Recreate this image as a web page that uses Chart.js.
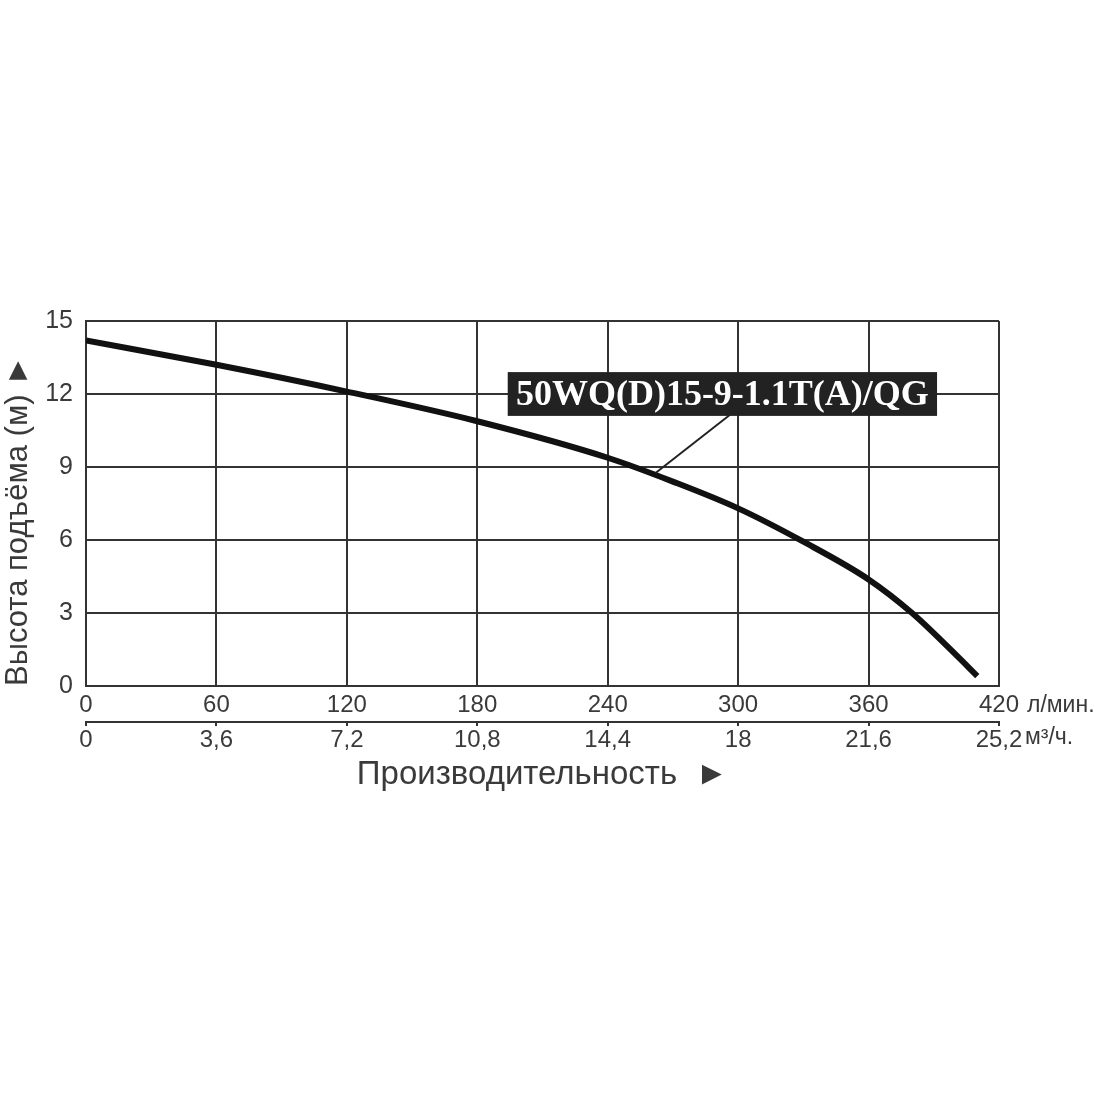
<!DOCTYPE html>
<html>
<head>
<meta charset="utf-8">
<title>50WQ(D)15-9-1.1T(A)/QG</title>
<script src="https://cdn.jsdelivr.net/npm/chart.js@4.4.0/dist/chart.umd.min.js"></script>
<style>
    body { margin: 0; background: #fff; }
    #wrap { width: 1100px; height: 1100px; }
</style>
</head>
<body>
<div id="wrap"><canvas id="pumpChart" width="1100" height="1100"></canvas></div>
<script>
// Pump curve data
const flowLpm = [0, 60, 120, 180, 240, 270, 300, 330, 360, 380, 400, 410];
const headM = [14.2, 13.2, 12.1, 10.88, 9.38, 8.4, 7.3, 5.93, 4.38, 3.0, 1.3, 0.41];

// Axis ticks
const lpmTicks = [0, 60, 120, 180, 240, 300, 360, 420];
const m3Ticks = [0, 3.6, 7.2, 10.8, 14.4, 18, 21.6, 25.2];
const m3Labels = ['0', '3,6', '7,2', '10,8', '14,4', '18', '21,6', '25,2'];
const headTicks = [0, 3, 6, 9, 12, 15];

const modelName = '50WQ(D)15-9-1.1T(A)/QG';

const textColor = '#3a3a3a';
const gridColor = '#333';

// Model label box + leader line, units next to the axes
const pumpLabelPlugin = {
    id: 'pumpLabel',
    afterDraw(chart) {
        const { ctx, scales: { x, y, x2 } } = chart;
        ctx.save();

        // leader line
        ctx.strokeStyle = '#222';
        ctx.lineWidth = 2;
        ctx.beginPath();
        ctx.moveTo(x.getPixelForValue(297), y.getPixelForValue(11.2));
        ctx.lineTo(x.getPixelForValue(262), y.getPixelForValue(8.75));
        ctx.stroke();

        // label box
        const bx0 = x.getPixelForValue(194), bx1 = x.getPixelForValue(391.5);
        const by0 = y.getPixelForValue(12.9), by1 = y.getPixelForValue(11.1);
        ctx.fillStyle = '#222';
        ctx.fillRect(bx0, by0, bx1 - bx0, by1 - by0);
        ctx.fillStyle = '#fff';
        ctx.font = 'bold 36px "Liberation Serif", "DejaVu Serif", serif';
        ctx.textAlign = 'center';
        ctx.textBaseline = 'middle';
        ctx.fillText(modelName, (bx0 + bx1) / 2, (by0 + by1) / 2 + 2);

        // units
        ctx.fillStyle = textColor;
        ctx.font = '23px "Liberation Sans", Arial, sans-serif';
        ctx.textAlign = 'left';
        ctx.fillText('л/мин.', x.right + 28, x.top + 20);
        ctx.fillText('м³/ч.', x2.right + 26, x2.top + 16);
        ctx.restore();
    }
};

new Chart(document.getElementById('pumpChart'), {
    type: 'line',
    data: {
        datasets: [{
            label: modelName,
            data: flowLpm.map((q, i) => ({ x: q, y: headM[i] })),
            borderColor: '#111',
            borderWidth: 6,
            pointRadius: 0,
            cubicInterpolationMode: 'monotone',
            fill: false,
            xAxisID: 'x',
            yAxisID: 'y'
        }]
    },
    options: {
        responsive: false,
        animation: false,
        devicePixelRatio: 1,
        layout: { padding: { top: 321, right: 101, bottom: 305, left: 0 } },
        plugins: {
            legend: { display: false },
            tooltip: { enabled: false }
        },
        scales: {
            x: {
                type: 'linear',
                position: 'bottom',
                min: 0, max: 420,
                afterBuildTicks: s => { s.ticks = lpmTicks.map(v => ({ value: v })); },
                afterFit: s => { s.height = 36; },
                grid: { color: gridColor, lineWidth: 2, drawTicks: false },
                border: { color: gridColor, width: 2 },
                ticks: {
                    color: textColor,
                    padding: 5,
                    maxRotation: 0,
                    font: { family: '"Liberation Sans", Arial, sans-serif', size: 24 }
                }
            },
            x2: {
                type: 'linear',
                position: 'bottom',
                min: 0, max: 25.2,
                afterBuildTicks: s => { s.ticks = m3Ticks.map(v => ({ value: v })); },
                afterFit: s => { s.height = 73; },
                grid: { drawOnChartArea: false, color: gridColor, lineWidth: 2, drawTicks: true, tickLength: 4 },
                border: { color: gridColor, width: 2 },
                ticks: {
                    color: textColor,
                    padding: 0,
                    maxRotation: 0,
                    callback: (v, i) => m3Labels[i],
                    font: { family: '"Liberation Sans", Arial, sans-serif', size: 24 }
                },
                title: {
                    display: true,
                    text: 'Производительность  ►',
                    color: textColor,
                    padding: 0,
                    font: { family: '"Liberation Sans", Arial, sans-serif', size: 33 }
                }
            },
            y: {
                type: 'linear',
                min: 0, max: 15,
                afterBuildTicks: s => { s.ticks = headTicks.map(v => ({ value: v })); },
                afterFit: s => { s.width = 86; },
                grid: { color: gridColor, lineWidth: 2, drawTicks: false },
                border: { color: gridColor, width: 2 },
                ticks: {
                    color: textColor,
                    padding: 13,
                    font: { family: '"Liberation Sans", Arial, sans-serif', size: 25 }
                },
                title: {
                    display: true,
                    align: 'start',
                    text: 'Высота подъёма (м) ►',
                    color: textColor,
                    padding: 0,
                    font: { family: '"Liberation Sans", Arial, sans-serif', size: 31 }
                }
            }
        }
    },
    plugins: [pumpLabelPlugin]
});
</script>
</body>
</html>
